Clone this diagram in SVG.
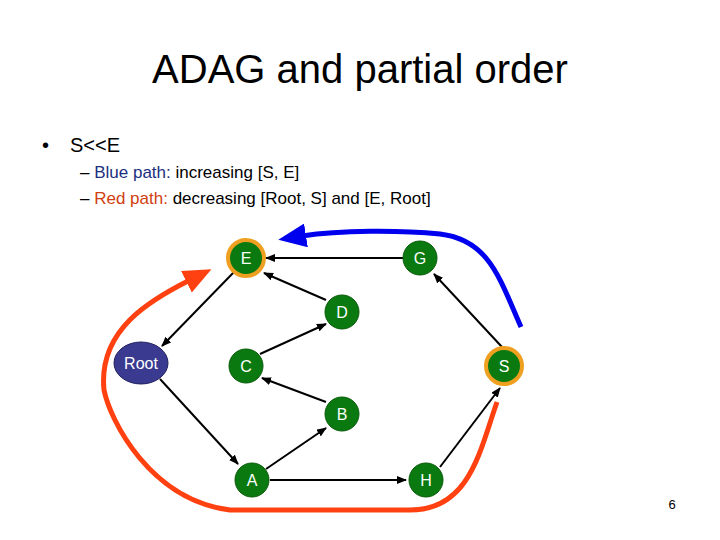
<svg xmlns="http://www.w3.org/2000/svg" width="720" height="540" viewBox="0 0 720 540">
<defs>
<marker id="ah" markerWidth="10" markerHeight="8" refX="9" refY="4" orient="auto" markerUnits="userSpaceOnUse"><path d="M0,0 L10,4 L0,8 Z" fill="#000"/></marker>
<marker id="bh" markerWidth="28" markerHeight="24" refX="4" refY="12" orient="auto" markerUnits="userSpaceOnUse"><path d="M0,0 L28,12 L0,24 Z" fill="#0000ee"/></marker>
<marker id="rh" markerWidth="28" markerHeight="24" refX="4" refY="12" orient="auto" markerUnits="userSpaceOnUse"><path d="M0,0 L28,12 L0,24 Z" fill="#ff4010"/></marker>
</defs>
<style>
text{font-family:"Liberation Sans",Arial,sans-serif}
.n{fill:#0a7a10;stroke:#0a5a0a;stroke-width:1}
.ring{fill:none;stroke:#f0a020;stroke-width:4}
.l{fill:#fff;font-size:16px;text-anchor:middle}
.e{stroke:#000;stroke-width:2;fill:none;marker-end:url(#ah)}
</style>
<rect width="720" height="540" fill="#fff"/>
<text x="360" y="83" font-size="40" text-anchor="middle">ADAG and partial order</text>
<text x="42" y="152" font-size="20">•</text>
<text x="70" y="152" font-size="20">S&lt;&lt;E</text>
<text x="80" y="178" font-size="17">– <tspan fill="#203080">Blue path:</tspan> increasing [S, E]</text>
<text x="80" y="204" font-size="17">– <tspan fill="#d04010">Red path:</tspan> decreasing [Root, S] and [E, Root]</text>
<g id="edges">
<line class="e" x1="403" y1="258" x2="266" y2="258"/>
<line class="e" x1="326" y1="300" x2="264" y2="273"/>
<line class="e" x1="234" y1="272" x2="162" y2="346"/>
<line class="e" x1="260" y1="354" x2="326" y2="324"/>
<line class="e" x1="326" y1="402" x2="262" y2="378"/>
<line class="e" x1="160" y1="379" x2="238" y2="464"/>
<line class="e" x1="266" y1="469" x2="326" y2="428"/>
<line class="e" x1="270" y1="480" x2="406" y2="480"/>
<line class="e" x1="440" y1="467" x2="500" y2="388"/>
<line class="e" x1="502" y1="347" x2="434" y2="274"/>
</g>
<g id="paths">
<path d="M521,327 C500,280 490,240 440,234 C400,230 340,230 302,236" fill="none" stroke="#0000ee" stroke-width="5" marker-end="url(#bh)"/>
<path d="M497,402 C480,450 470,510 410,510 L230,510 C150,500 110,420 104,390 C98,330 150,300 190,280" fill="none" stroke="#ff4010" stroke-width="5" marker-end="url(#rh)"/>
</g>
<g id="E"><circle class="n" cx="246" cy="258" r="17"/><circle class="ring" cx="246" cy="258" r="18"/><text class="l" x="246" y="264">E</text></g>
<g id="G"><circle class="n" cx="420" cy="258" r="17"/><text class="l" x="420" y="264">G</text></g>
<g id="D"><circle class="n" cx="342" cy="312" r="17"/><text class="l" x="342" y="318">D</text></g>
<g id="Root"><ellipse cx="141" cy="363" rx="27" ry="21" fill="#3a3a90" stroke="#202060"/><text class="l" x="141" y="369">Root</text></g>
<g id="C"><circle class="n" cx="246" cy="366" r="17"/><text class="l" x="246" y="372">C</text></g>
<g id="S"><circle class="n" cx="504" cy="366" r="17"/><circle class="ring" cx="504" cy="366" r="18"/><text class="l" x="504" y="372">S</text></g>
<g id="B"><circle class="n" cx="342" cy="414" r="17"/><text class="l" x="342" y="420">B</text></g>
<g id="A"><circle class="n" cx="252" cy="480" r="17"/><text class="l" x="252" y="486">A</text></g>
<g id="H"><circle class="n" cx="426" cy="480" r="17"/><text class="l" x="426" y="486">H</text></g>
<text x="672" y="509" font-size="13" text-anchor="middle">6</text>
</svg>
